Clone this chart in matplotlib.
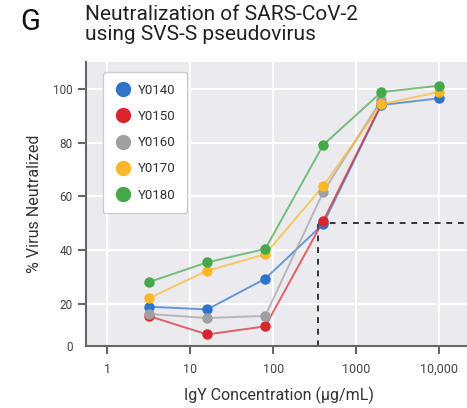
import numpy as np
import matplotlib
matplotlib.use("Agg")
import matplotlib.pyplot as plt
from matplotlib.lines import Line2D

plt.rcParams['font.family'] = ['Roboto', 'DejaVu Sans']

# --- Data ---
conc = [3.2, 16, 80, 400, 2000, 10000]
names = ["Y0140", "Y0150", "Y0160", "Y0170", "Y0180"]
y0140 = [19.0, 18.0, 29.4, 49.8, 94.0, 96.5]
y0150 = [15.5, 8.7, 11.7, 51.0, 94.3, np.nan]
y0160 = [16.3, 14.8, 15.6, 61.7, 95.9, np.nan]
y0170 = [22.2, 32.4, 38.5, 63.9, 94.3, 98.9]
y0180 = [28.2, 35.5, 40.5, 79.2, 98.8, 101.2]
series = [y0140, y0150, y0160, y0170, y0180]
colors = ["#2f74c8", "#d8262f", "#a0a0a0", "#fbb826", "#45a84a"]
ic50_x = 345
ic50_y = 50

# --- Figure ---
fig = plt.figure(figsize=(4.67, 4.08), dpi=100)
ax = fig.add_axes([86/467, 1 - 346/408, 1 - 86/467 + 0.01, (346 - 62)/408])
ax.set_facecolor("#ebebef")

for vals, c in zip(series, colors):
    ax.plot(conc, vals, '-', color=c, lw=1.4, alpha=0.7, zorder=3)
    ax.plot(conc, vals, 'o', color=c, ms=6.5, zorder=4)

# IC50 guide
ax.plot([ic50_x, ic50_x], [0, ic50_y], ls=(0, (3, 3)), color="#333333", lw=1.4, zorder=2)
ax.plot([ic50_x, 1e6], [ic50_y, ic50_y], ls=(0, (3, 3)), color="#333333", lw=1.4, zorder=2)

ax.set_xscale('log')
ax.set_xlim(0.555, 24500)
ybot = 4.4
ax.set_ylim(ybot, 110)

ax.set_xticks([1, 10, 100, 1000, 10000])
ax.set_xticklabels(["1", "10", "100", "1000", "10,000"])
ax.xaxis.set_minor_locator(matplotlib.ticker.NullLocator())
ax.set_yticks([ybot, 20, 40, 60, 80, 100])
ax.set_yticklabels(["0", "20", "40", "60", "80", "100"])
ax.yaxis.get_major_ticks()[0].tick1line.set_visible(False)
ax.yaxis.get_major_ticks()[0].gridline.set_visible(False)

ax.grid(True, color="white", lw=1.5, zorder=0)
ax.set_axisbelow(True)
for s in ["top", "right"]:
    ax.spines[s].set_visible(False)
for s in ["left", "bottom"]:
    ax.spines[s].set_color("#666666")
    ax.spines[s].set_linewidth(1.5)
ax.tick_params(axis='both', colors="#666666", width=1.5, length=6, labelsize=8.5,
               labelcolor="#444444")
ax.tick_params(axis='x', pad=6, labelsize=9)

ax.set_ylabel("% Virus Neutralized", fontsize=11.5, color="#333333", labelpad=8)
ax.set_xlabel("IgY Concentration (μg/mL)", fontsize=11.5, color="#333333", labelpad=8)

handles = [Line2D([], [], ls='none', marker='o', ms=10, color=c) for c in colors]
leg = ax.legend(handles, names, loc='upper left', bbox_to_anchor=(0.045, 0.965),
                borderaxespad=0, fontsize=9.5, frameon=True, fancybox=True,
                handletextpad=0.5, labelspacing=1.0, borderpad=0.9, handlelength=1.2)
leg.get_frame().set_edgecolor("#cccccc")
leg.get_frame().set_facecolor("white")
leg.get_frame().set_alpha(1)
for t in leg.get_texts():
    t.set_color("#333333")

fig.text(20/467, 1 - 22/408, "G", fontsize=21, va='center', ha='left', color="#111111")
fig.text(85/467, 1 - 5/408, "Neutralization of SARS-CoV-2\nusing SVS-S pseudovirus",
         fontsize=15, va='top', ha='left', color="#222222", linespacing=1.1)

fig.savefig("out.png", dpi=100)
